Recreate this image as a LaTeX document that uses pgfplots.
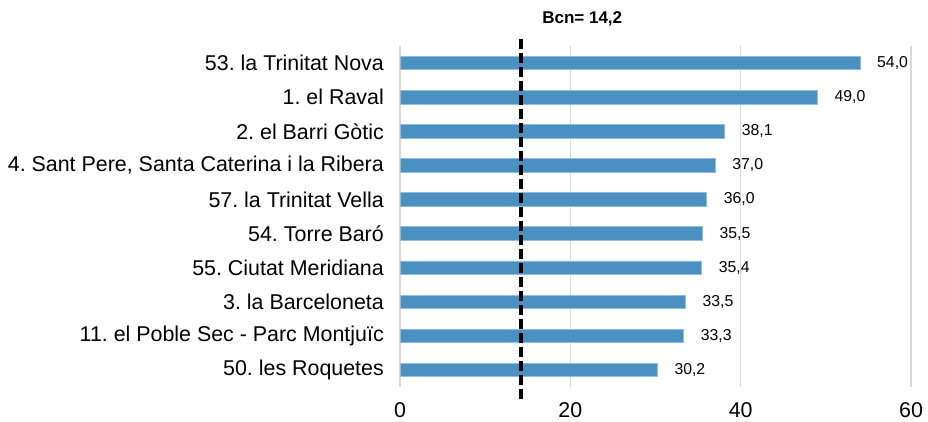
\documentclass[border=0pt]{standalone}
\usepackage{pgfplots}
\pgfplotsset{compat=1.18}
\usepackage{fontspec}
\setmainfont{Liberation Sans}
\frenchspacing
\definecolor{barblue}{RGB}{74,145,194}
\definecolor{gridgray}{RGB}{217,217,217}
\begin{document}
\frenchspacing
\begin{tikzpicture}
\useasboundingbox (0,0) rectangle (928bp,422bp);
\begin{axis}[
  at={(400bp,35bp)}, anchor=south west,
  scale only axis,
  width=511bp, height=341bp,
  xmin=0, xmax=60,
  ymin=-0.5, ymax=9.5,
  y dir=reverse,
  xtick={0,20,40,60},
  ytick={0,...,9},
  yticklabels={53. la Trinitat Nova,1. el Raval,2. el Barri Gòtic,{4. Sant Pere, Santa Caterina i la Ribera},57. la Trinitat Vella,54. Torre Baró,55. Ciutat Meridiana,3. la Barceloneta,11. el Poble Sec - Parc Montjuïc,50. les Roquetes},
  xmajorgrids,
  grid style={gridgray, line width=1.5bp},
  axis line style={draw=none},
  major tick length=0pt,
  tick style={draw=none},
  /pgf/number format/assume math mode=true,
  xticklabel style={font=\fontsize{21.4bp}{24bp}\selectfont, inner sep=0pt, anchor=north},
  xticklabel shift=15bp,
  yticklabel style={font=\frenchspacing\fontsize{21.4bp}{24bp}\selectfont, inner sep=0pt, anchor=east},
  yticklabel shift=16bp,
  clip=false,
  xbar,
  bar width=13.5bp,
  nodes near coords={\pgfmathprintnumber[fixed,fixed zerofill,precision=1,use comma,assume math mode=true]{\pgfplotspointmeta}},
  nodes near coords style={anchor=west, inner sep=0pt, xshift=17bp, font=\fontsize{15.8bp}{18bp}\selectfont, text=black},
]
\addplot[fill=barblue, draw=barblue!60!white, line width=0.6bp] coordinates {
  (54.0,0) (49.0,1) (38.1,2) (37.0,3) (36.0,4) (35.5,5) (35.4,6) (33.5,7) (33.3,8) (30.2,9)
};
\end{axis}
\begin{axis}[
  at={(400bp,35bp)}, anchor=south west,
  scale only axis,
  width=511bp, height=341bp,
  xmin=0, xmax=60,
  ymin=-0.5, ymax=9.5,
  y dir=reverse,
  hide axis,
  clip=false,
]
\addplot[black, line width=3.5bp, dash pattern=on 10bp off 4bp, mark=none] coordinates {(14.2,-0.70) (14.2,9.91)};
\node[font=\bfseries\fontsize{17bp}{20bp}\selectfont, inner sep=0pt] at (axis cs:21.4,-1.29) {Bcn= 14,2};
\end{axis}
\end{tikzpicture}
\end{document}
